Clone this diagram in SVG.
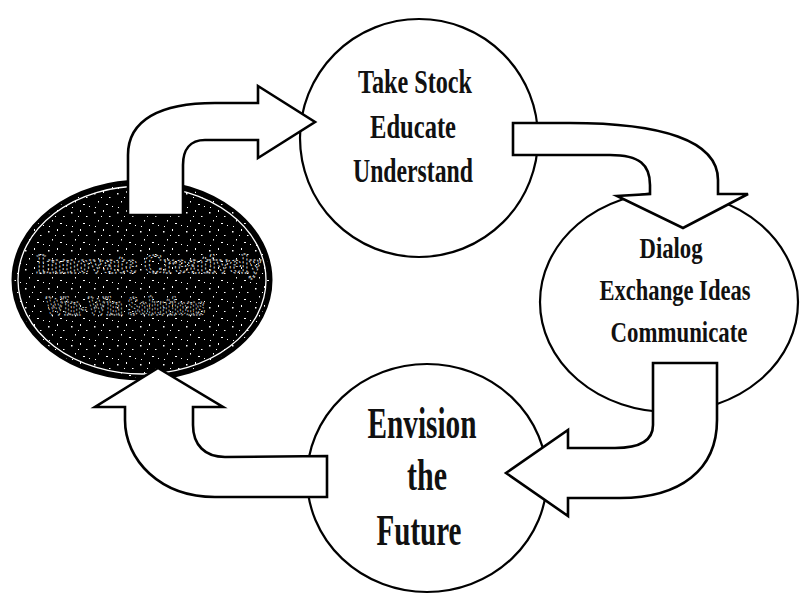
<svg xmlns="http://www.w3.org/2000/svg" width="802" height="595" viewBox="0 0 802 595">
<style>
.node{fill:#fff;stroke:#000;stroke-width:2.2}
.arrow{fill:#fff;stroke:#000;stroke-width:2.6;stroke-linejoin:miter}
.lbl{font-family:"Liberation Serif","Times New Roman",serif;font-weight:bold;fill:#111;text-anchor:middle}
.dark{font-family:"Liberation Serif","Times New Roman",serif;font-weight:bold;fill:#000;stroke:#fff;stroke-width:0.8;stroke-dasharray:2 2;text-anchor:middle}
</style>
<defs>
<pattern id="speck" width="23" height="19" patternUnits="userSpaceOnUse">
<rect width="23" height="19" fill="#000"/>
<rect x="2" y="3" width="1.5" height="1.5" fill="#fff"/>
<rect x="11" y="1" width="1" height="2" fill="#fff"/>
<rect x="17" y="7" width="1.5" height="1" fill="#fff"/>
<rect x="6" y="11" width="1" height="1.5" fill="#fff"/>
<rect x="14" y="14" width="2" height="1" fill="#fff"/>
<rect x="20" y="16" width="1" height="1" fill="#fff"/>
<rect x="3" y="17" width="1" height="1" fill="#fff"/>
<rect x="9" y="7" width="1" height="1" fill="#fff"/>
</pattern>
</defs>
<rect width="802" height="595" fill="#fff"/>
<g id="node-solutions">
<ellipse cx="142" cy="280" rx="129" ry="99" fill="url(#speck)" stroke="#000" stroke-width="3"/>
<ellipse cx="142" cy="280" rx="124" ry="94" fill="none" stroke="#fff" stroke-width="1.3"/>
<text class="dark" x="149" y="273" font-size="28" textLength="226" lengthAdjust="spacingAndGlyphs">Innovate Creatively</text>
<text class="dark" x="125" y="315" font-size="28" textLength="160" lengthAdjust="spacingAndGlyphs">Win-Win Solutions</text>
</g>
<g id="node-takestock">
<ellipse class="node" cx="419" cy="138" rx="119" ry="119"/>
<text class="lbl" x="415" y="93" font-size="34" textLength="114" lengthAdjust="spacingAndGlyphs">Take Stock</text>
<text class="lbl" x="413" y="138" font-size="34" textLength="86" lengthAdjust="spacingAndGlyphs">Educate</text>
<text class="lbl" x="413" y="182" font-size="34" textLength="120" lengthAdjust="spacingAndGlyphs">Understand</text>
</g>
<g id="node-dialog">
<ellipse class="node" cx="669" cy="302" rx="129" ry="110"/>
<text class="lbl" x="671" y="258" font-size="30" textLength="63" lengthAdjust="spacingAndGlyphs">Dialog</text>
<text class="lbl" x="675" y="300" font-size="30" textLength="151" lengthAdjust="spacingAndGlyphs">Exchange Ideas</text>
<text class="lbl" x="679" y="342" font-size="30" textLength="137" lengthAdjust="spacingAndGlyphs">Communicate</text>
</g>
<g id="node-envision">
<ellipse class="node" cx="427" cy="478" rx="120" ry="114"/>
<text class="lbl" x="422" y="438" font-size="45" textLength="109" lengthAdjust="spacingAndGlyphs">Envision</text>
<text class="lbl" x="427" y="490" font-size="45" textLength="40" lengthAdjust="spacingAndGlyphs">the</text>
<text class="lbl" x="419" y="545" font-size="45" textLength="85" lengthAdjust="spacingAndGlyphs">Future</text>
</g>
<g id="connectors">
<path class="arrow" d="M128,215 L128,155 C128,120 160,103 215,103 L258,103 L258,86 L315,122 L258,158 L258,140 L205,140 C190,140 183,150 183,165 L183,215 Z"/>
<path class="arrow" d="M513,123 L570,123 C660,123 718,140 718,180 L718,194 L748,194 L683,228 L617,196 L650,194 L650,185 C650,165 640,155 610,155 L513,155 Z"/>
<path class="arrow" d="M653,363 L717,363 L717,420 C717,470 680,498 620,498 L568,498 L568,516 L506,473 L568,430 L568,448 L615,448 C640,448 653,440 653,425 Z"/>
<path class="arrow" d="M327,456 L327,497 L215,497 C160,497 125,460 125,420 L125,407 L95,407 L158,368 L223,407 L193,407 L193,425 C193,445 205,457 225,457 Z"/>
</g>
</svg>
